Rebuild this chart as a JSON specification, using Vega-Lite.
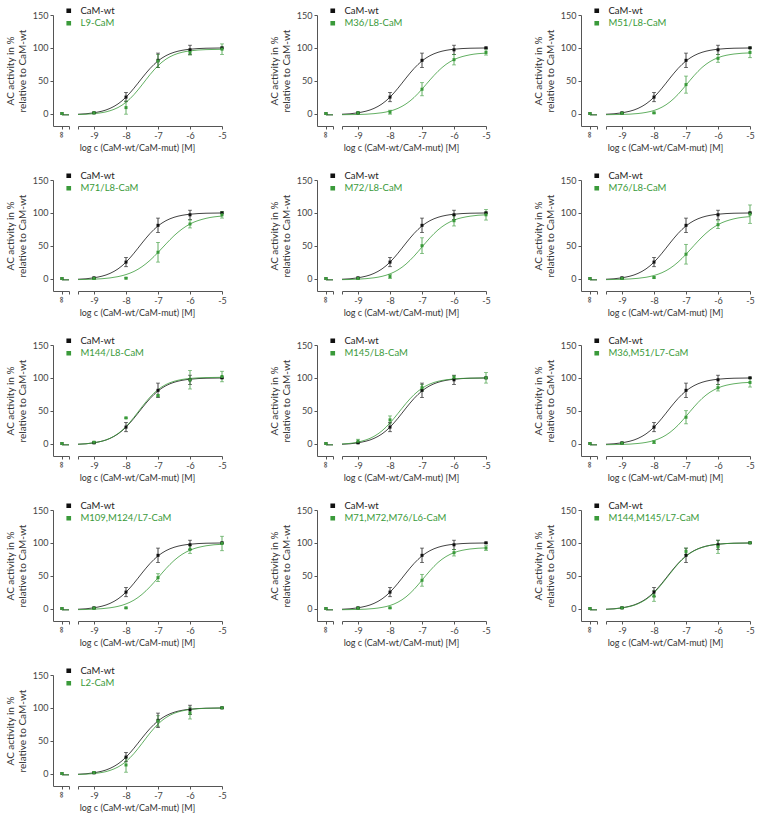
{
"$schema": "https://vega.github.io/schema/vega-lite/v6.json",
"background": "white",
"padding": {"left": 5, "top": 6, "right": 5, "bottom": 2},
"datasets": {"d": [
{"s":"CaM-wt","k":"i","x":-10,"y":0},{"s":"CaM-wt","k":"t","x":-10,"y":-2},{"s":"CaM-wt","k":"t","x":-9.78,"y":-2},
{"s":"CaM-wt","k":"p","x":-9,"y":1,"e":1},{"s":"CaM-wt","k":"p","x":-8,"y":25,"e":7},{"s":"CaM-wt","k":"p","x":-7,"y":81,"e":11},{"s":"CaM-wt","k":"p","x":-6,"y":97,"e":7},{"s":"CaM-wt","k":"p","x":-5,"y":100,"e":1},
{"s":"CaM-wt","k":"c","x":-9.5,"y":-1.1},{"s":"CaM-wt","k":"c","x":-9,"y":1.1},{"s":"CaM-wt","k":"c","x":-8.5,"y":7.8},{"s":"CaM-wt","k":"c","x":-8.25,"y":14.6},{"s":"CaM-wt","k":"c","x":-8,"y":24.9},{"s":"CaM-wt","k":"c","x":-7.75,"y":38.6},{"s":"CaM-wt","k":"c","x":-7.5,"y":54},{"s":"CaM-wt","k":"c","x":-7.25,"y":68.5},{"s":"CaM-wt","k":"c","x":-7,"y":80.1},{"s":"CaM-wt","k":"c","x":-6.75,"y":88.1},{"s":"CaM-wt","k":"c","x":-6.5,"y":93.2},{"s":"CaM-wt","k":"c","x":-6.25,"y":96.2},{"s":"CaM-wt","k":"c","x":-6,"y":97.9},{"s":"CaM-wt","k":"c","x":-5.5,"y":99.4},{"s":"CaM-wt","k":"c","x":-5,"y":99.8},

{"s":"L9-CaM","k":"i","x":-10,"y":0},{"s":"L9-CaM","k":"t","x":-10,"y":-2},{"s":"L9-CaM","k":"t","x":-9.78,"y":-2},
{"s":"L9-CaM","k":"p","x":-9,"y":1,"e":1},{"s":"L9-CaM","k":"p","x":-8,"y":9,"e":10},{"s":"L9-CaM","k":"p","x":-7,"y":80,"e":10},{"s":"L9-CaM","k":"p","x":-6,"y":93,"e":4},{"s":"L9-CaM","k":"p","x":-5,"y":98,"e":8},
{"s":"L9-CaM","k":"c","x":-9.5,"y":-1.5},{"s":"L9-CaM","k":"c","x":-9,"y":-0.2},{"s":"L9-CaM","k":"c","x":-8.5,"y":4.2},{"s":"L9-CaM","k":"c","x":-8.25,"y":9.1},{"s":"L9-CaM","k":"c","x":-8,"y":17.1},{"s":"L9-CaM","k":"c","x":-7.75,"y":28.8},{"s":"L9-CaM","k":"c","x":-7.5,"y":43.6},{"s":"L9-CaM","k":"c","x":-7.25,"y":59.2},{"s":"L9-CaM","k":"c","x":-7,"y":72.8},{"s":"L9-CaM","k":"c","x":-6.75,"y":82.8},{"s":"L9-CaM","k":"c","x":-6.5,"y":89.3},{"s":"L9-CaM","k":"c","x":-6.25,"y":93.2},{"s":"L9-CaM","k":"c","x":-6,"y":95.4},{"s":"L9-CaM","k":"c","x":-5.5,"y":97.3},{"s":"L9-CaM","k":"c","x":-5,"y":97.8},

{"s":"M36/L8-CaM","k":"i","x":-10,"y":0},{"s":"M36/L8-CaM","k":"t","x":-10,"y":-2},{"s":"M36/L8-CaM","k":"t","x":-9.78,"y":-2},
{"s":"M36/L8-CaM","k":"p","x":-9,"y":1,"e":1},{"s":"M36/L8-CaM","k":"p","x":-8,"y":2,"e":3},{"s":"M36/L8-CaM","k":"p","x":-7,"y":37,"e":10},{"s":"M36/L8-CaM","k":"p","x":-6,"y":82,"e":8},{"s":"M36/L8-CaM","k":"p","x":-5,"y":93,"e":4},
{"s":"M36/L8-CaM","k":"c","x":-9.5,"y":-1.8},{"s":"M36/L8-CaM","k":"c","x":-9,"y":-1.5},{"s":"M36/L8-CaM","k":"c","x":-8.5,"y":-0.2},{"s":"M36/L8-CaM","k":"c","x":-8.25,"y":1.2},{"s":"M36/L8-CaM","k":"c","x":-8,"y":3.7},{"s":"M36/L8-CaM","k":"c","x":-7.75,"y":7.9},{"s":"M36/L8-CaM","k":"c","x":-7.5,"y":14.6},{"s":"M36/L8-CaM","k":"c","x":-7.25,"y":24.3},{"s":"M36/L8-CaM","k":"c","x":-7,"y":37.1},{"s":"M36/L8-CaM","k":"c","x":-6.75,"y":51.2},{"s":"M36/L8-CaM","k":"c","x":-6.5,"y":64.3},{"s":"M36/L8-CaM","k":"c","x":-6.25,"y":74.8},{"s":"M36/L8-CaM","k":"c","x":-6,"y":82},{"s":"M36/L8-CaM","k":"c","x":-5.5,"y":89.4},{"s":"M36/L8-CaM","k":"c","x":-5,"y":91.9},

{"s":"M51/L8-CaM","k":"i","x":-10,"y":0},{"s":"M51/L8-CaM","k":"t","x":-10,"y":-2},{"s":"M51/L8-CaM","k":"t","x":-9.78,"y":-2},
{"s":"M51/L8-CaM","k":"p","x":-9,"y":0.5,"e":1},{"s":"M51/L8-CaM","k":"p","x":-8,"y":1,"e":1},{"s":"M51/L8-CaM","k":"p","x":-7,"y":44,"e":13},{"s":"M51/L8-CaM","k":"p","x":-6,"y":84,"e":6},{"s":"M51/L8-CaM","k":"p","x":-5,"y":93,"e":8},
{"s":"M51/L8-CaM","k":"c","x":-9.5,"y":-1.8},{"s":"M51/L8-CaM","k":"c","x":-9,"y":-1.4},{"s":"M51/L8-CaM","k":"c","x":-8.5,"y":0},{"s":"M51/L8-CaM","k":"c","x":-8.25,"y":1.7},{"s":"M51/L8-CaM","k":"c","x":-8,"y":4.6},{"s":"M51/L8-CaM","k":"c","x":-7.75,"y":9.7},{"s":"M51/L8-CaM","k":"c","x":-7.5,"y":17.7},{"s":"M51/L8-CaM","k":"c","x":-7.25,"y":29.1},{"s":"M51/L8-CaM","k":"c","x":-7,"y":43.2},{"s":"M51/L8-CaM","k":"c","x":-6.75,"y":57.6},{"s":"M51/L8-CaM","k":"c","x":-6.5,"y":70.1},{"s":"M51/L8-CaM","k":"c","x":-6.25,"y":79.1},{"s":"M51/L8-CaM","k":"c","x":-6,"y":85},{"s":"M51/L8-CaM","k":"c","x":-5.5,"y":90.6},{"s":"M51/L8-CaM","k":"c","x":-5,"y":92.3},

{"s":"M71/L8-CaM","k":"i","x":-10,"y":0},{"s":"M71/L8-CaM","k":"t","x":-10,"y":-2},{"s":"M71/L8-CaM","k":"t","x":-9.78,"y":-2},
{"s":"M71/L8-CaM","k":"p","x":-9,"y":0,"e":1},{"s":"M71/L8-CaM","k":"p","x":-8,"y":0.5,"e":1},{"s":"M71/L8-CaM","k":"p","x":-7,"y":40,"e":15},{"s":"M71/L8-CaM","k":"p","x":-6,"y":83,"e":6},{"s":"M71/L8-CaM","k":"p","x":-5,"y":97,"e":5},
{"s":"M71/L8-CaM","k":"c","x":-9.5,"y":-1.6},{"s":"M71/L8-CaM","k":"c","x":-9,"y":-1},{"s":"M71/L8-CaM","k":"c","x":-8.5,"y":0.9},{"s":"M71/L8-CaM","k":"c","x":-8.25,"y":2.9},{"s":"M71/L8-CaM","k":"c","x":-8,"y":6},{"s":"M71/L8-CaM","k":"c","x":-7.75,"y":10.8},{"s":"M71/L8-CaM","k":"c","x":-7.5,"y":18},{"s":"M71/L8-CaM","k":"c","x":-7.25,"y":27.7},{"s":"M71/L8-CaM","k":"c","x":-7,"y":39.7},{"s":"M71/L8-CaM","k":"c","x":-6.75,"y":52.7},{"s":"M71/L8-CaM","k":"c","x":-6.5,"y":65.1},{"s":"M71/L8-CaM","k":"c","x":-6.25,"y":75.3},{"s":"M71/L8-CaM","k":"c","x":-6,"y":83},{"s":"M71/L8-CaM","k":"c","x":-5.5,"y":91.6},{"s":"M71/L8-CaM","k":"c","x":-5,"y":95.1},

{"s":"M72/L8-CaM","k":"i","x":-10,"y":0},{"s":"M72/L8-CaM","k":"t","x":-10,"y":-2},{"s":"M72/L8-CaM","k":"t","x":-9.78,"y":-2},
{"s":"M72/L8-CaM","k":"p","x":-9,"y":0,"e":1},{"s":"M72/L8-CaM","k":"p","x":-8,"y":3,"e":3},{"s":"M72/L8-CaM","k":"p","x":-7,"y":50,"e":12},{"s":"M72/L8-CaM","k":"p","x":-6,"y":88,"e":8},{"s":"M72/L8-CaM","k":"p","x":-5,"y":97,"e":8},
{"s":"M72/L8-CaM","k":"c","x":-9.5,"y":-1.7},{"s":"M72/L8-CaM","k":"c","x":-9,"y":-1},{"s":"M72/L8-CaM","k":"c","x":-8.5,"y":1.1},{"s":"M72/L8-CaM","k":"c","x":-8.25,"y":3.3},{"s":"M72/L8-CaM","k":"c","x":-8,"y":7.1},{"s":"M72/L8-CaM","k":"c","x":-7.75,"y":13.1},{"s":"M72/L8-CaM","k":"c","x":-7.5,"y":22},{"s":"M72/L8-CaM","k":"c","x":-7.25,"y":34},{"s":"M72/L8-CaM","k":"c","x":-7,"y":48},{"s":"M72/L8-CaM","k":"c","x":-6.75,"y":62},{"s":"M72/L8-CaM","k":"c","x":-6.5,"y":74},{"s":"M72/L8-CaM","k":"c","x":-6.25,"y":82.9},{"s":"M72/L8-CaM","k":"c","x":-6,"y":88.9},{"s":"M72/L8-CaM","k":"c","x":-5.5,"y":94.9},{"s":"M72/L8-CaM","k":"c","x":-5,"y":97},

{"s":"M76/L8-CaM","k":"i","x":-10,"y":0},{"s":"M76/L8-CaM","k":"t","x":-10,"y":-2},{"s":"M76/L8-CaM","k":"t","x":-9.78,"y":-2},
{"s":"M76/L8-CaM","k":"p","x":-9,"y":0,"e":1},{"s":"M76/L8-CaM","k":"p","x":-8,"y":1.5,"e":1},{"s":"M76/L8-CaM","k":"p","x":-7,"y":37,"e":15},{"s":"M76/L8-CaM","k":"p","x":-6,"y":82,"e":6},{"s":"M76/L8-CaM","k":"p","x":-5,"y":98,"e":14},
{"s":"M76/L8-CaM","k":"c","x":-9.5,"y":-1.7},{"s":"M76/L8-CaM","k":"c","x":-9,"y":-1.2},{"s":"M76/L8-CaM","k":"c","x":-8.5,"y":0.3},{"s":"M76/L8-CaM","k":"c","x":-8.25,"y":1.9},{"s":"M76/L8-CaM","k":"c","x":-8,"y":4.6},{"s":"M76/L8-CaM","k":"c","x":-7.75,"y":8.9},{"s":"M76/L8-CaM","k":"c","x":-7.5,"y":15.5},{"s":"M76/L8-CaM","k":"c","x":-7.25,"y":24.9},{"s":"M76/L8-CaM","k":"c","x":-7,"y":36.9},{"s":"M76/L8-CaM","k":"c","x":-6.75,"y":50.3},{"s":"M76/L8-CaM","k":"c","x":-6.5,"y":63.2},{"s":"M76/L8-CaM","k":"c","x":-6.25,"y":74},{"s":"M76/L8-CaM","k":"c","x":-6,"y":82},{"s":"M76/L8-CaM","k":"c","x":-5.5,"y":90.9},{"s":"M76/L8-CaM","k":"c","x":-5,"y":94.2},

{"s":"M144/L8-CaM","k":"i","x":-10,"y":0},{"s":"M144/L8-CaM","k":"t","x":-10,"y":-2},{"s":"M144/L8-CaM","k":"t","x":-9.78,"y":-2},
{"s":"M144/L8-CaM","k":"p","x":-9,"y":2,"e":1},{"s":"M144/L8-CaM","k":"p","x":-8,"y":39,"e":1},{"s":"M144/L8-CaM","k":"p","x":-7,"y":73,"e":1},{"s":"M144/L8-CaM","k":"p","x":-6,"y":97,"e":14},{"s":"M144/L8-CaM","k":"p","x":-5,"y":102,"e":8},
{"s":"M144/L8-CaM","k":"c","x":-9.5,"y":-1.1},{"s":"M144/L8-CaM","k":"c","x":-9,"y":1.1},{"s":"M144/L8-CaM","k":"c","x":-8.5,"y":7.9},{"s":"M144/L8-CaM","k":"c","x":-8.25,"y":15.1},{"s":"M144/L8-CaM","k":"c","x":-8,"y":25.8},{"s":"M144/L8-CaM","k":"c","x":-7.75,"y":40},{"s":"M144/L8-CaM","k":"c","x":-7.5,"y":55.9},{"s":"M144/L8-CaM","k":"c","x":-7.25,"y":70.6},{"s":"M144/L8-CaM","k":"c","x":-7,"y":82.1},{"s":"M144/L8-CaM","k":"c","x":-6.75,"y":89.9},{"s":"M144/L8-CaM","k":"c","x":-6.5,"y":94.7},{"s":"M144/L8-CaM","k":"c","x":-6.25,"y":97.5},{"s":"M144/L8-CaM","k":"c","x":-6,"y":99.1},{"s":"M144/L8-CaM","k":"c","x":-5.5,"y":100.4},{"s":"M144/L8-CaM","k":"c","x":-5,"y":100.8},

{"s":"M145/L8-CaM","k":"i","x":-10,"y":0},{"s":"M145/L8-CaM","k":"t","x":-10,"y":-2},{"s":"M145/L8-CaM","k":"t","x":-9.78,"y":-2},
{"s":"M145/L8-CaM","k":"p","x":-9,"y":3.5,"e":3},{"s":"M145/L8-CaM","k":"p","x":-8,"y":36,"e":6},{"s":"M145/L8-CaM","k":"p","x":-7,"y":85,"e":5},{"s":"M145/L8-CaM","k":"p","x":-6,"y":101,"e":2},{"s":"M145/L8-CaM","k":"p","x":-5,"y":100,"e":8},
{"s":"M145/L8-CaM","k":"c","x":-9.5,"y":-0.7},{"s":"M145/L8-CaM","k":"c","x":-9,"y":2.2},{"s":"M145/L8-CaM","k":"c","x":-8.5,"y":10.9},{"s":"M145/L8-CaM","k":"c","x":-8.25,"y":19.3},{"s":"M145/L8-CaM","k":"c","x":-8,"y":31.3},{"s":"M145/L8-CaM","k":"c","x":-7.75,"y":45.9},{"s":"M145/L8-CaM","k":"c","x":-7.5,"y":61.1},{"s":"M145/L8-CaM","k":"c","x":-7.25,"y":74.3},{"s":"M145/L8-CaM","k":"c","x":-7,"y":84.1},{"s":"M145/L8-CaM","k":"c","x":-6.75,"y":90.7},{"s":"M145/L8-CaM","k":"c","x":-6.5,"y":94.7},{"s":"M145/L8-CaM","k":"c","x":-6.25,"y":97},{"s":"M145/L8-CaM","k":"c","x":-6,"y":98.4},{"s":"M145/L8-CaM","k":"c","x":-5.5,"y":99.5},{"s":"M145/L8-CaM","k":"c","x":-5,"y":99.9},

{"s":"M36,M51/L7-CaM","k":"i","x":-10,"y":0},{"s":"M36,M51/L7-CaM","k":"t","x":-10,"y":-2},{"s":"M36,M51/L7-CaM","k":"t","x":-9.78,"y":-2},
{"s":"M36,M51/L7-CaM","k":"p","x":-9,"y":0.5,"e":1},{"s":"M36,M51/L7-CaM","k":"p","x":-8,"y":2,"e":2},{"s":"M36,M51/L7-CaM","k":"p","x":-7,"y":40,"e":10},{"s":"M36,M51/L7-CaM","k":"p","x":-6,"y":85,"e":5},{"s":"M36,M51/L7-CaM","k":"p","x":-5,"y":93,"e":7},
{"s":"M36,M51/L7-CaM","k":"c","x":-9.5,"y":-1.8},{"s":"M36,M51/L7-CaM","k":"c","x":-9,"y":-1.4},{"s":"M36,M51/L7-CaM","k":"c","x":-8.5,"y":0.1},{"s":"M36,M51/L7-CaM","k":"c","x":-8.25,"y":1.7},{"s":"M36,M51/L7-CaM","k":"c","x":-8,"y":4.6},{"s":"M36,M51/L7-CaM","k":"c","x":-7.75,"y":9.4},{"s":"M36,M51/L7-CaM","k":"c","x":-7.5,"y":17},{"s":"M36,M51/L7-CaM","k":"c","x":-7.25,"y":27.8},{"s":"M36,M51/L7-CaM","k":"c","x":-7,"y":41.4},{"s":"M36,M51/L7-CaM","k":"c","x":-6.75,"y":55.7},{"s":"M36,M51/L7-CaM","k":"c","x":-6.5,"y":68.5},{"s":"M36,M51/L7-CaM","k":"c","x":-6.25,"y":78.1},{"s":"M36,M51/L7-CaM","k":"c","x":-6,"y":84.6},{"s":"M36,M51/L7-CaM","k":"c","x":-5.5,"y":91},{"s":"M36,M51/L7-CaM","k":"c","x":-5,"y":93.1},

{"s":"M109,M124/L7-CaM","k":"i","x":-10,"y":0},{"s":"M109,M124/L7-CaM","k":"t","x":-10,"y":-2},{"s":"M109,M124/L7-CaM","k":"t","x":-9.78,"y":-2},
{"s":"M109,M124/L7-CaM","k":"p","x":-9,"y":0.5,"e":1},{"s":"M109,M124/L7-CaM","k":"p","x":-8,"y":1,"e":1},{"s":"M109,M124/L7-CaM","k":"p","x":-7,"y":47,"e":6},{"s":"M109,M124/L7-CaM","k":"p","x":-6,"y":90,"e":6},{"s":"M109,M124/L7-CaM","k":"p","x":-5,"y":99,"e":11},
{"s":"M109,M124/L7-CaM","k":"c","x":-9.5,"y":-1.7},{"s":"M109,M124/L7-CaM","k":"c","x":-9,"y":-1},{"s":"M109,M124/L7-CaM","k":"c","x":-8.5,"y":1.1},{"s":"M109,M124/L7-CaM","k":"c","x":-8.25,"y":3.3},{"s":"M109,M124/L7-CaM","k":"c","x":-8,"y":7},{"s":"M109,M124/L7-CaM","k":"c","x":-7.75,"y":12.8},{"s":"M109,M124/L7-CaM","k":"c","x":-7.5,"y":21.5},{"s":"M109,M124/L7-CaM","k":"c","x":-7.25,"y":33.1},{"s":"M109,M124/L7-CaM","k":"c","x":-7,"y":46.8},{"s":"M109,M124/L7-CaM","k":"c","x":-6.75,"y":60.8},{"s":"M109,M124/L7-CaM","k":"c","x":-6.5,"y":73},{"s":"M109,M124/L7-CaM","k":"c","x":-6.25,"y":82.4},{"s":"M109,M124/L7-CaM","k":"c","x":-6,"y":88.8},{"s":"M109,M124/L7-CaM","k":"c","x":-5.5,"y":95.5},{"s":"M109,M124/L7-CaM","k":"c","x":-5,"y":97.8},

{"s":"M71,M72,M76/L6-CaM","k":"i","x":-10,"y":0},{"s":"M71,M72,M76/L6-CaM","k":"t","x":-10,"y":-2},{"s":"M71,M72,M76/L6-CaM","k":"t","x":-9.78,"y":-2},
{"s":"M71,M72,M76/L6-CaM","k":"p","x":-9,"y":0.5,"e":1},{"s":"M71,M72,M76/L6-CaM","k":"p","x":-8,"y":1,"e":1},{"s":"M71,M72,M76/L6-CaM","k":"p","x":-7,"y":43,"e":9},{"s":"M71,M72,M76/L6-CaM","k":"p","x":-6,"y":85,"e":5},{"s":"M71,M72,M76/L6-CaM","k":"p","x":-5,"y":92,"e":3.5},
{"s":"M71,M72,M76/L6-CaM","k":"c","x":-9.5,"y":-1.8},{"s":"M71,M72,M76/L6-CaM","k":"c","x":-9,"y":-1.4},{"s":"M71,M72,M76/L6-CaM","k":"c","x":-8.5,"y":0},{"s":"M71,M72,M76/L6-CaM","k":"c","x":-8.25,"y":1.7},{"s":"M71,M72,M76/L6-CaM","k":"c","x":-8,"y":4.6},{"s":"M71,M72,M76/L6-CaM","k":"c","x":-7.75,"y":9.7},{"s":"M71,M72,M76/L6-CaM","k":"c","x":-7.5,"y":17.7},{"s":"M71,M72,M76/L6-CaM","k":"c","x":-7.25,"y":29.1},{"s":"M71,M72,M76/L6-CaM","k":"c","x":-7,"y":43.2},{"s":"M71,M72,M76/L6-CaM","k":"c","x":-6.75,"y":57.6},{"s":"M71,M72,M76/L6-CaM","k":"c","x":-6.5,"y":70.1},{"s":"M71,M72,M76/L6-CaM","k":"c","x":-6.25,"y":79.1},{"s":"M71,M72,M76/L6-CaM","k":"c","x":-6,"y":85},{"s":"M71,M72,M76/L6-CaM","k":"c","x":-5.5,"y":90.6},{"s":"M71,M72,M76/L6-CaM","k":"c","x":-5,"y":92.3},

{"s":"M144,M145/L7-CaM","k":"i","x":-10,"y":0},{"s":"M144,M145/L7-CaM","k":"t","x":-10,"y":-2},{"s":"M144,M145/L7-CaM","k":"t","x":-9.78,"y":-2},
{"s":"M144,M145/L7-CaM","k":"p","x":-9,"y":1,"e":1},{"s":"M144,M145/L7-CaM","k":"p","x":-8,"y":19,"e":8},{"s":"M144,M145/L7-CaM","k":"p","x":-7,"y":87,"e":5},{"s":"M144,M145/L7-CaM","k":"p","x":-6,"y":94,"e":10},{"s":"M144,M145/L7-CaM","k":"p","x":-5,"y":100,"e":1},
{"s":"M144,M145/L7-CaM","k":"c","x":-9.5,"y":-1.2},{"s":"M144,M145/L7-CaM","k":"c","x":-9,"y":0.8},{"s":"M144,M145/L7-CaM","k":"c","x":-8.5,"y":7.2},{"s":"M144,M145/L7-CaM","k":"c","x":-8.25,"y":13.8},{"s":"M144,M145/L7-CaM","k":"c","x":-8,"y":23.8},{"s":"M144,M145/L7-CaM","k":"c","x":-7.75,"y":37.6},{"s":"M144,M145/L7-CaM","k":"c","x":-7.5,"y":53},{"s":"M144,M145/L7-CaM","k":"c","x":-7.25,"y":67.8},{"s":"M144,M145/L7-CaM","k":"c","x":-7,"y":79.6},{"s":"M144,M145/L7-CaM","k":"c","x":-6.75,"y":87.8},{"s":"M144,M145/L7-CaM","k":"c","x":-6.5,"y":93},{"s":"M144,M145/L7-CaM","k":"c","x":-6.25,"y":96.1},{"s":"M144,M145/L7-CaM","k":"c","x":-6,"y":97.9},{"s":"M144,M145/L7-CaM","k":"c","x":-5.5,"y":99.4},{"s":"M144,M145/L7-CaM","k":"c","x":-5,"y":99.8},

{"s":"L2-CaM","k":"i","x":-10,"y":0},{"s":"L2-CaM","k":"t","x":-10,"y":-2},{"s":"L2-CaM","k":"t","x":-9.78,"y":-2},
{"s":"L2-CaM","k":"p","x":-9,"y":1.5,"e":1},{"s":"L2-CaM","k":"p","x":-8,"y":13,"e":11},{"s":"L2-CaM","k":"p","x":-7,"y":80,"e":8},{"s":"L2-CaM","k":"p","x":-6,"y":92,"e":9},{"s":"L2-CaM","k":"p","x":-5,"y":100,"e":1},
{"s":"L2-CaM","k":"c","x":-9.5,"y":-1.4},{"s":"L2-CaM","k":"c","x":-9,"y":0},{"s":"L2-CaM","k":"c","x":-8.5,"y":4.7},{"s":"L2-CaM","k":"c","x":-8.25,"y":9.9},{"s":"L2-CaM","k":"c","x":-8,"y":18.3},{"s":"L2-CaM","k":"c","x":-7.75,"y":30.5},{"s":"L2-CaM","k":"c","x":-7.5,"y":45.8},{"s":"L2-CaM","k":"c","x":-7.25,"y":61.6},{"s":"L2-CaM","k":"c","x":-7,"y":75.3},{"s":"L2-CaM","k":"c","x":-6.75,"y":85.2},{"s":"L2-CaM","k":"c","x":-6.5,"y":91.6},{"s":"L2-CaM","k":"c","x":-6.25,"y":95.3},{"s":"L2-CaM","k":"c","x":-6,"y":97.5},{"s":"L2-CaM","k":"c","x":-5.5,"y":99.3},{"s":"L2-CaM","k":"c","x":-5,"y":99.8}
]},
"data": {"name": "d"},
"columns": 3,
"spacing": {"row": 54, "column": 95},
"bounds": "flush",
"resolve": {"scale": {"color": "independent"}, "legend": {"color": "independent"}},
"config": {
  "view": {"stroke": null},
  "font": "Lato",
  "axis": {"domainColor": "#555555", "tickColor": "#555555", "labelColor": "#444444", "labelFontSize": 9, "titleFontSize": 10, "titleFontWeight": "normal", "titleColor": "#333333", "tickSize": 3, "grid": false, "labelFlush": false, "labelOverlap": false, "labelBound": false, "domainWidth": 1, "tickWidth": 1},
  "axisY": {"titlePadding": 5, "labelPadding": 2, "titleLineHeight": 12},
  "axisX": {"labelPadding": 2, "titlePadding": 3, "titleFontSize": 9},
  "legend": {"labelFontSize": 9.5, "labelLimit": 300},
  "point": {"filled": true, "shape": "square", "size": 9, "opacity": 1},
  "line": {"strokeWidth": 0.8}
},
"concat": [
{"width":169,"height":111,"transform":[{"filter":"datum.s=='CaM-wt'||datum.s=='L9-CaM'"}],
 "encoding":{"y":{"field":"y","type":"quantitative","scale":{"domain":[-19,150],"nice":false,"zero":false},"axis":{"values":[0,50,100,150],"title":["AC activity in %","relative to CaM-wt"]}},
  "color":{"field":"s","type":"nominal","scale":{"domain":["CaM-wt","L9-CaM"],"range":["#111111","#3a9a3a"]},"legend":{"title":null,"orient":"none","legendX":11,"legendY":-9,"symbolType":"square","symbolSize":10,"labelOffset":7,"rowPadding":1.5,"encode":{"labels":{"update":{"fill":{"signal":"datum.value=='CaM-wt'?'#222222':'#3a9a3a'"}}},"symbols":{"update":{"fill":{"signal":"datum.value=='CaM-wt'?'#111111':'#3a9a3a'"},"stroke":{"value":"transparent"}}}}}}},
 "layer":[
  {"encoding":{"x":{"field":"x","type":"quantitative","scale":{"domain":[-10.28,-9.78],"range":[0,16],"nice":false,"zero":false},"axis":{"orient":"bottom","values":[-10,-9.78],"labelExpr":"datum.value==-10?'∞':''","labelAngle":90,"title":null}}},
   "layer":[{"transform":[{"filter":"datum.k=='t'"}],"mark":{"type":"line"}},{"transform":[{"filter":"datum.k=='i'"}],"mark":{"type":"point"}}]},
  {"encoding":{"x":{"field":"x","type":"quantitative","scale":{"domain":[-9.5,-5],"range":[25,169],"nice":false,"zero":false},"axis":{"orient":"bottom","values":[-9.5,-9,-8,-7,-6,-5],"labelExpr":"datum.value==-9.5?'':''+datum.value","title":"log c (CaM-wt/CaM-mut) [M]","titleX":84}}},
   "layer":[{"transform":[{"filter":"datum.k=='c'"}],"mark":{"type":"line","interpolate":"monotone"}},{"transform":[{"filter":"datum.k=='p'"}],"mark":{"type":"errorbar","ticks":{"size":4},"thickness":0.8},"encoding":{"yError":{"field":"e"}}},{"transform":[{"filter":"datum.k=='p'"}],"mark":{"type":"point"}}]}
 ],
 "resolve":{"scale":{"x":"independent"},"axis":{"x":"independent"}}},
{"width":169,"height":111,"transform":[{"filter":"datum.s=='CaM-wt'||datum.s=='M36/L8-CaM'"}],
 "encoding":{"y":{"field":"y","type":"quantitative","scale":{"domain":[-19,150],"nice":false,"zero":false},"axis":{"values":[0,50,100,150],"title":["AC activity in %","relative to CaM-wt"]}},
  "color":{"field":"s","type":"nominal","scale":{"domain":["CaM-wt","M36/L8-CaM"],"range":["#111111","#3a9a3a"]},"legend":{"title":null,"orient":"none","legendX":11,"legendY":-9,"symbolType":"square","symbolSize":10,"labelOffset":7,"rowPadding":1.5,"encode":{"labels":{"update":{"fill":{"signal":"datum.value=='CaM-wt'?'#222222':'#3a9a3a'"}}},"symbols":{"update":{"fill":{"signal":"datum.value=='CaM-wt'?'#111111':'#3a9a3a'"},"stroke":{"value":"transparent"}}}}}}},
 "layer":[
  {"encoding":{"x":{"field":"x","type":"quantitative","scale":{"domain":[-10.28,-9.78],"range":[0,16],"nice":false,"zero":false},"axis":{"orient":"bottom","values":[-10,-9.78],"labelExpr":"datum.value==-10?'∞':''","labelAngle":90,"title":null}}},
   "layer":[{"transform":[{"filter":"datum.k=='t'"}],"mark":{"type":"line"}},{"transform":[{"filter":"datum.k=='i'"}],"mark":{"type":"point"}}]},
  {"encoding":{"x":{"field":"x","type":"quantitative","scale":{"domain":[-9.5,-5],"range":[25,169],"nice":false,"zero":false},"axis":{"orient":"bottom","values":[-9.5,-9,-8,-7,-6,-5],"labelExpr":"datum.value==-9.5?'':''+datum.value","title":"log c (CaM-wt/CaM-mut) [M]","titleX":84}}},
   "layer":[{"transform":[{"filter":"datum.k=='c'"}],"mark":{"type":"line","interpolate":"monotone"}},{"transform":[{"filter":"datum.k=='p'"}],"mark":{"type":"errorbar","ticks":{"size":4},"thickness":0.8},"encoding":{"yError":{"field":"e"}}},{"transform":[{"filter":"datum.k=='p'"}],"mark":{"type":"point"}}]}
 ],
 "resolve":{"scale":{"x":"independent"},"axis":{"x":"independent"}}},
{"width":169,"height":111,"transform":[{"filter":"datum.s=='CaM-wt'||datum.s=='M51/L8-CaM'"}],
 "encoding":{"y":{"field":"y","type":"quantitative","scale":{"domain":[-19,150],"nice":false,"zero":false},"axis":{"values":[0,50,100,150],"title":["AC activity in %","relative to CaM-wt"]}},
  "color":{"field":"s","type":"nominal","scale":{"domain":["CaM-wt","M51/L8-CaM"],"range":["#111111","#3a9a3a"]},"legend":{"title":null,"orient":"none","legendX":11,"legendY":-9,"symbolType":"square","symbolSize":10,"labelOffset":7,"rowPadding":1.5,"encode":{"labels":{"update":{"fill":{"signal":"datum.value=='CaM-wt'?'#222222':'#3a9a3a'"}}},"symbols":{"update":{"fill":{"signal":"datum.value=='CaM-wt'?'#111111':'#3a9a3a'"},"stroke":{"value":"transparent"}}}}}}},
 "layer":[
  {"encoding":{"x":{"field":"x","type":"quantitative","scale":{"domain":[-10.28,-9.78],"range":[0,16],"nice":false,"zero":false},"axis":{"orient":"bottom","values":[-10,-9.78],"labelExpr":"datum.value==-10?'∞':''","labelAngle":90,"title":null}}},
   "layer":[{"transform":[{"filter":"datum.k=='t'"}],"mark":{"type":"line"}},{"transform":[{"filter":"datum.k=='i'"}],"mark":{"type":"point"}}]},
  {"encoding":{"x":{"field":"x","type":"quantitative","scale":{"domain":[-9.5,-5],"range":[25,169],"nice":false,"zero":false},"axis":{"orient":"bottom","values":[-9.5,-9,-8,-7,-6,-5],"labelExpr":"datum.value==-9.5?'':''+datum.value","title":"log c (CaM-wt/CaM-mut) [M]","titleX":84}}},
   "layer":[{"transform":[{"filter":"datum.k=='c'"}],"mark":{"type":"line","interpolate":"monotone"}},{"transform":[{"filter":"datum.k=='p'"}],"mark":{"type":"errorbar","ticks":{"size":4},"thickness":0.8},"encoding":{"yError":{"field":"e"}}},{"transform":[{"filter":"datum.k=='p'"}],"mark":{"type":"point"}}]}
 ],
 "resolve":{"scale":{"x":"independent"},"axis":{"x":"independent"}}},
{"width":169,"height":111,"transform":[{"filter":"datum.s=='CaM-wt'||datum.s=='M71/L8-CaM'"}],
 "encoding":{"y":{"field":"y","type":"quantitative","scale":{"domain":[-19,150],"nice":false,"zero":false},"axis":{"values":[0,50,100,150],"title":["AC activity in %","relative to CaM-wt"]}},
  "color":{"field":"s","type":"nominal","scale":{"domain":["CaM-wt","M71/L8-CaM"],"range":["#111111","#3a9a3a"]},"legend":{"title":null,"orient":"none","legendX":11,"legendY":-9,"symbolType":"square","symbolSize":10,"labelOffset":7,"rowPadding":1.5,"encode":{"labels":{"update":{"fill":{"signal":"datum.value=='CaM-wt'?'#222222':'#3a9a3a'"}}},"symbols":{"update":{"fill":{"signal":"datum.value=='CaM-wt'?'#111111':'#3a9a3a'"},"stroke":{"value":"transparent"}}}}}}},
 "layer":[
  {"encoding":{"x":{"field":"x","type":"quantitative","scale":{"domain":[-10.28,-9.78],"range":[0,16],"nice":false,"zero":false},"axis":{"orient":"bottom","values":[-10,-9.78],"labelExpr":"datum.value==-10?'∞':''","labelAngle":90,"title":null}}},
   "layer":[{"transform":[{"filter":"datum.k=='t'"}],"mark":{"type":"line"}},{"transform":[{"filter":"datum.k=='i'"}],"mark":{"type":"point"}}]},
  {"encoding":{"x":{"field":"x","type":"quantitative","scale":{"domain":[-9.5,-5],"range":[25,169],"nice":false,"zero":false},"axis":{"orient":"bottom","values":[-9.5,-9,-8,-7,-6,-5],"labelExpr":"datum.value==-9.5?'':''+datum.value","title":"log c (CaM-wt/CaM-mut) [M]","titleX":84}}},
   "layer":[{"transform":[{"filter":"datum.k=='c'"}],"mark":{"type":"line","interpolate":"monotone"}},{"transform":[{"filter":"datum.k=='p'"}],"mark":{"type":"errorbar","ticks":{"size":4},"thickness":0.8},"encoding":{"yError":{"field":"e"}}},{"transform":[{"filter":"datum.k=='p'"}],"mark":{"type":"point"}}]}
 ],
 "resolve":{"scale":{"x":"independent"},"axis":{"x":"independent"}}},
{"width":169,"height":111,"transform":[{"filter":"datum.s=='CaM-wt'||datum.s=='M72/L8-CaM'"}],
 "encoding":{"y":{"field":"y","type":"quantitative","scale":{"domain":[-19,150],"nice":false,"zero":false},"axis":{"values":[0,50,100,150],"title":["AC activity in %","relative to CaM-wt"]}},
  "color":{"field":"s","type":"nominal","scale":{"domain":["CaM-wt","M72/L8-CaM"],"range":["#111111","#3a9a3a"]},"legend":{"title":null,"orient":"none","legendX":11,"legendY":-9,"symbolType":"square","symbolSize":10,"labelOffset":7,"rowPadding":1.5,"encode":{"labels":{"update":{"fill":{"signal":"datum.value=='CaM-wt'?'#222222':'#3a9a3a'"}}},"symbols":{"update":{"fill":{"signal":"datum.value=='CaM-wt'?'#111111':'#3a9a3a'"},"stroke":{"value":"transparent"}}}}}}},
 "layer":[
  {"encoding":{"x":{"field":"x","type":"quantitative","scale":{"domain":[-10.28,-9.78],"range":[0,16],"nice":false,"zero":false},"axis":{"orient":"bottom","values":[-10,-9.78],"labelExpr":"datum.value==-10?'∞':''","labelAngle":90,"title":null}}},
   "layer":[{"transform":[{"filter":"datum.k=='t'"}],"mark":{"type":"line"}},{"transform":[{"filter":"datum.k=='i'"}],"mark":{"type":"point"}}]},
  {"encoding":{"x":{"field":"x","type":"quantitative","scale":{"domain":[-9.5,-5],"range":[25,169],"nice":false,"zero":false},"axis":{"orient":"bottom","values":[-9.5,-9,-8,-7,-6,-5],"labelExpr":"datum.value==-9.5?'':''+datum.value","title":"log c (CaM-wt/CaM-mut) [M]","titleX":84}}},
   "layer":[{"transform":[{"filter":"datum.k=='c'"}],"mark":{"type":"line","interpolate":"monotone"}},{"transform":[{"filter":"datum.k=='p'"}],"mark":{"type":"errorbar","ticks":{"size":4},"thickness":0.8},"encoding":{"yError":{"field":"e"}}},{"transform":[{"filter":"datum.k=='p'"}],"mark":{"type":"point"}}]}
 ],
 "resolve":{"scale":{"x":"independent"},"axis":{"x":"independent"}}},
{"width":169,"height":111,"transform":[{"filter":"datum.s=='CaM-wt'||datum.s=='M76/L8-CaM'"}],
 "encoding":{"y":{"field":"y","type":"quantitative","scale":{"domain":[-19,150],"nice":false,"zero":false},"axis":{"values":[0,50,100,150],"title":["AC activity in %","relative to CaM-wt"]}},
  "color":{"field":"s","type":"nominal","scale":{"domain":["CaM-wt","M76/L8-CaM"],"range":["#111111","#3a9a3a"]},"legend":{"title":null,"orient":"none","legendX":11,"legendY":-9,"symbolType":"square","symbolSize":10,"labelOffset":7,"rowPadding":1.5,"encode":{"labels":{"update":{"fill":{"signal":"datum.value=='CaM-wt'?'#222222':'#3a9a3a'"}}},"symbols":{"update":{"fill":{"signal":"datum.value=='CaM-wt'?'#111111':'#3a9a3a'"},"stroke":{"value":"transparent"}}}}}}},
 "layer":[
  {"encoding":{"x":{"field":"x","type":"quantitative","scale":{"domain":[-10.28,-9.78],"range":[0,16],"nice":false,"zero":false},"axis":{"orient":"bottom","values":[-10,-9.78],"labelExpr":"datum.value==-10?'∞':''","labelAngle":90,"title":null}}},
   "layer":[{"transform":[{"filter":"datum.k=='t'"}],"mark":{"type":"line"}},{"transform":[{"filter":"datum.k=='i'"}],"mark":{"type":"point"}}]},
  {"encoding":{"x":{"field":"x","type":"quantitative","scale":{"domain":[-9.5,-5],"range":[25,169],"nice":false,"zero":false},"axis":{"orient":"bottom","values":[-9.5,-9,-8,-7,-6,-5],"labelExpr":"datum.value==-9.5?'':''+datum.value","title":"log c (CaM-wt/CaM-mut) [M]","titleX":84}}},
   "layer":[{"transform":[{"filter":"datum.k=='c'"}],"mark":{"type":"line","interpolate":"monotone"}},{"transform":[{"filter":"datum.k=='p'"}],"mark":{"type":"errorbar","ticks":{"size":4},"thickness":0.8},"encoding":{"yError":{"field":"e"}}},{"transform":[{"filter":"datum.k=='p'"}],"mark":{"type":"point"}}]}
 ],
 "resolve":{"scale":{"x":"independent"},"axis":{"x":"independent"}}},
{"width":169,"height":111,"transform":[{"filter":"datum.s=='CaM-wt'||datum.s=='M144/L8-CaM'"}],
 "encoding":{"y":{"field":"y","type":"quantitative","scale":{"domain":[-19,150],"nice":false,"zero":false},"axis":{"values":[0,50,100,150],"title":["AC activity in %","relative to CaM-wt"]}},
  "color":{"field":"s","type":"nominal","scale":{"domain":["CaM-wt","M144/L8-CaM"],"range":["#111111","#3a9a3a"]},"legend":{"title":null,"orient":"none","legendX":11,"legendY":-9,"symbolType":"square","symbolSize":10,"labelOffset":7,"rowPadding":1.5,"encode":{"labels":{"update":{"fill":{"signal":"datum.value=='CaM-wt'?'#222222':'#3a9a3a'"}}},"symbols":{"update":{"fill":{"signal":"datum.value=='CaM-wt'?'#111111':'#3a9a3a'"},"stroke":{"value":"transparent"}}}}}}},
 "layer":[
  {"encoding":{"x":{"field":"x","type":"quantitative","scale":{"domain":[-10.28,-9.78],"range":[0,16],"nice":false,"zero":false},"axis":{"orient":"bottom","values":[-10,-9.78],"labelExpr":"datum.value==-10?'∞':''","labelAngle":90,"title":null}}},
   "layer":[{"transform":[{"filter":"datum.k=='t'"}],"mark":{"type":"line"}},{"transform":[{"filter":"datum.k=='i'"}],"mark":{"type":"point"}}]},
  {"encoding":{"x":{"field":"x","type":"quantitative","scale":{"domain":[-9.5,-5],"range":[25,169],"nice":false,"zero":false},"axis":{"orient":"bottom","values":[-9.5,-9,-8,-7,-6,-5],"labelExpr":"datum.value==-9.5?'':''+datum.value","title":"log c (CaM-wt/CaM-mut) [M]","titleX":84}}},
   "layer":[{"transform":[{"filter":"datum.k=='c'"}],"mark":{"type":"line","interpolate":"monotone"}},{"transform":[{"filter":"datum.k=='p'"}],"mark":{"type":"errorbar","ticks":{"size":4},"thickness":0.8},"encoding":{"yError":{"field":"e"}}},{"transform":[{"filter":"datum.k=='p'"}],"mark":{"type":"point"}}]}
 ],
 "resolve":{"scale":{"x":"independent"},"axis":{"x":"independent"}}},
{"width":169,"height":111,"transform":[{"filter":"datum.s=='CaM-wt'||datum.s=='M145/L8-CaM'"}],
 "encoding":{"y":{"field":"y","type":"quantitative","scale":{"domain":[-19,150],"nice":false,"zero":false},"axis":{"values":[0,50,100,150],"title":["AC activity in %","relative to CaM-wt"]}},
  "color":{"field":"s","type":"nominal","scale":{"domain":["CaM-wt","M145/L8-CaM"],"range":["#111111","#3a9a3a"]},"legend":{"title":null,"orient":"none","legendX":11,"legendY":-9,"symbolType":"square","symbolSize":10,"labelOffset":7,"rowPadding":1.5,"encode":{"labels":{"update":{"fill":{"signal":"datum.value=='CaM-wt'?'#222222':'#3a9a3a'"}}},"symbols":{"update":{"fill":{"signal":"datum.value=='CaM-wt'?'#111111':'#3a9a3a'"},"stroke":{"value":"transparent"}}}}}}},
 "layer":[
  {"encoding":{"x":{"field":"x","type":"quantitative","scale":{"domain":[-10.28,-9.78],"range":[0,16],"nice":false,"zero":false},"axis":{"orient":"bottom","values":[-10,-9.78],"labelExpr":"datum.value==-10?'∞':''","labelAngle":90,"title":null}}},
   "layer":[{"transform":[{"filter":"datum.k=='t'"}],"mark":{"type":"line"}},{"transform":[{"filter":"datum.k=='i'"}],"mark":{"type":"point"}}]},
  {"encoding":{"x":{"field":"x","type":"quantitative","scale":{"domain":[-9.5,-5],"range":[25,169],"nice":false,"zero":false},"axis":{"orient":"bottom","values":[-9.5,-9,-8,-7,-6,-5],"labelExpr":"datum.value==-9.5?'':''+datum.value","title":"log c (CaM-wt/CaM-mut) [M]","titleX":84}}},
   "layer":[{"transform":[{"filter":"datum.k=='c'"}],"mark":{"type":"line","interpolate":"monotone"}},{"transform":[{"filter":"datum.k=='p'"}],"mark":{"type":"errorbar","ticks":{"size":4},"thickness":0.8},"encoding":{"yError":{"field":"e"}}},{"transform":[{"filter":"datum.k=='p'"}],"mark":{"type":"point"}}]}
 ],
 "resolve":{"scale":{"x":"independent"},"axis":{"x":"independent"}}},
{"width":169,"height":111,"transform":[{"filter":"datum.s=='CaM-wt'||datum.s=='M36,M51/L7-CaM'"}],
 "encoding":{"y":{"field":"y","type":"quantitative","scale":{"domain":[-19,150],"nice":false,"zero":false},"axis":{"values":[0,50,100,150],"title":["AC activity in %","relative to CaM-wt"]}},
  "color":{"field":"s","type":"nominal","scale":{"domain":["CaM-wt","M36,M51/L7-CaM"],"range":["#111111","#3a9a3a"]},"legend":{"title":null,"orient":"none","legendX":11,"legendY":-9,"symbolType":"square","symbolSize":10,"labelOffset":7,"rowPadding":1.5,"encode":{"labels":{"update":{"fill":{"signal":"datum.value=='CaM-wt'?'#222222':'#3a9a3a'"}}},"symbols":{"update":{"fill":{"signal":"datum.value=='CaM-wt'?'#111111':'#3a9a3a'"},"stroke":{"value":"transparent"}}}}}}},
 "layer":[
  {"encoding":{"x":{"field":"x","type":"quantitative","scale":{"domain":[-10.28,-9.78],"range":[0,16],"nice":false,"zero":false},"axis":{"orient":"bottom","values":[-10,-9.78],"labelExpr":"datum.value==-10?'∞':''","labelAngle":90,"title":null}}},
   "layer":[{"transform":[{"filter":"datum.k=='t'"}],"mark":{"type":"line"}},{"transform":[{"filter":"datum.k=='i'"}],"mark":{"type":"point"}}]},
  {"encoding":{"x":{"field":"x","type":"quantitative","scale":{"domain":[-9.5,-5],"range":[25,169],"nice":false,"zero":false},"axis":{"orient":"bottom","values":[-9.5,-9,-8,-7,-6,-5],"labelExpr":"datum.value==-9.5?'':''+datum.value","title":"log c (CaM-wt/CaM-mut) [M]","titleX":84}}},
   "layer":[{"transform":[{"filter":"datum.k=='c'"}],"mark":{"type":"line","interpolate":"monotone"}},{"transform":[{"filter":"datum.k=='p'"}],"mark":{"type":"errorbar","ticks":{"size":4},"thickness":0.8},"encoding":{"yError":{"field":"e"}}},{"transform":[{"filter":"datum.k=='p'"}],"mark":{"type":"point"}}]}
 ],
 "resolve":{"scale":{"x":"independent"},"axis":{"x":"independent"}}},
{"width":169,"height":111,"transform":[{"filter":"datum.s=='CaM-wt'||datum.s=='M109,M124/L7-CaM'"}],
 "encoding":{"y":{"field":"y","type":"quantitative","scale":{"domain":[-19,150],"nice":false,"zero":false},"axis":{"values":[0,50,100,150],"title":["AC activity in %","relative to CaM-wt"]}},
  "color":{"field":"s","type":"nominal","scale":{"domain":["CaM-wt","M109,M124/L7-CaM"],"range":["#111111","#3a9a3a"]},"legend":{"title":null,"orient":"none","legendX":11,"legendY":-9,"symbolType":"square","symbolSize":10,"labelOffset":7,"rowPadding":1.5,"encode":{"labels":{"update":{"fill":{"signal":"datum.value=='CaM-wt'?'#222222':'#3a9a3a'"}}},"symbols":{"update":{"fill":{"signal":"datum.value=='CaM-wt'?'#111111':'#3a9a3a'"},"stroke":{"value":"transparent"}}}}}}},
 "layer":[
  {"encoding":{"x":{"field":"x","type":"quantitative","scale":{"domain":[-10.28,-9.78],"range":[0,16],"nice":false,"zero":false},"axis":{"orient":"bottom","values":[-10,-9.78],"labelExpr":"datum.value==-10?'∞':''","labelAngle":90,"title":null}}},
   "layer":[{"transform":[{"filter":"datum.k=='t'"}],"mark":{"type":"line"}},{"transform":[{"filter":"datum.k=='i'"}],"mark":{"type":"point"}}]},
  {"encoding":{"x":{"field":"x","type":"quantitative","scale":{"domain":[-9.5,-5],"range":[25,169],"nice":false,"zero":false},"axis":{"orient":"bottom","values":[-9.5,-9,-8,-7,-6,-5],"labelExpr":"datum.value==-9.5?'':''+datum.value","title":"log c (CaM-wt/CaM-mut) [M]","titleX":84}}},
   "layer":[{"transform":[{"filter":"datum.k=='c'"}],"mark":{"type":"line","interpolate":"monotone"}},{"transform":[{"filter":"datum.k=='p'"}],"mark":{"type":"errorbar","ticks":{"size":4},"thickness":0.8},"encoding":{"yError":{"field":"e"}}},{"transform":[{"filter":"datum.k=='p'"}],"mark":{"type":"point"}}]}
 ],
 "resolve":{"scale":{"x":"independent"},"axis":{"x":"independent"}}},
{"width":169,"height":111,"transform":[{"filter":"datum.s=='CaM-wt'||datum.s=='M71,M72,M76/L6-CaM'"}],
 "encoding":{"y":{"field":"y","type":"quantitative","scale":{"domain":[-19,150],"nice":false,"zero":false},"axis":{"values":[0,50,100,150],"title":["AC activity in %","relative to CaM-wt"]}},
  "color":{"field":"s","type":"nominal","scale":{"domain":["CaM-wt","M71,M72,M76/L6-CaM"],"range":["#111111","#3a9a3a"]},"legend":{"title":null,"orient":"none","legendX":11,"legendY":-9,"symbolType":"square","symbolSize":10,"labelOffset":7,"rowPadding":1.5,"encode":{"labels":{"update":{"fill":{"signal":"datum.value=='CaM-wt'?'#222222':'#3a9a3a'"}}},"symbols":{"update":{"fill":{"signal":"datum.value=='CaM-wt'?'#111111':'#3a9a3a'"},"stroke":{"value":"transparent"}}}}}}},
 "layer":[
  {"encoding":{"x":{"field":"x","type":"quantitative","scale":{"domain":[-10.28,-9.78],"range":[0,16],"nice":false,"zero":false},"axis":{"orient":"bottom","values":[-10,-9.78],"labelExpr":"datum.value==-10?'∞':''","labelAngle":90,"title":null}}},
   "layer":[{"transform":[{"filter":"datum.k=='t'"}],"mark":{"type":"line"}},{"transform":[{"filter":"datum.k=='i'"}],"mark":{"type":"point"}}]},
  {"encoding":{"x":{"field":"x","type":"quantitative","scale":{"domain":[-9.5,-5],"range":[25,169],"nice":false,"zero":false},"axis":{"orient":"bottom","values":[-9.5,-9,-8,-7,-6,-5],"labelExpr":"datum.value==-9.5?'':''+datum.value","title":"log c (CaM-wt/CaM-mut) [M]","titleX":84}}},
   "layer":[{"transform":[{"filter":"datum.k=='c'"}],"mark":{"type":"line","interpolate":"monotone"}},{"transform":[{"filter":"datum.k=='p'"}],"mark":{"type":"errorbar","ticks":{"size":4},"thickness":0.8},"encoding":{"yError":{"field":"e"}}},{"transform":[{"filter":"datum.k=='p'"}],"mark":{"type":"point"}}]}
 ],
 "resolve":{"scale":{"x":"independent"},"axis":{"x":"independent"}}},
{"width":169,"height":111,"transform":[{"filter":"datum.s=='CaM-wt'||datum.s=='M144,M145/L7-CaM'"}],
 "encoding":{"y":{"field":"y","type":"quantitative","scale":{"domain":[-19,150],"nice":false,"zero":false},"axis":{"values":[0,50,100,150],"title":["AC activity in %","relative to CaM-wt"]}},
  "color":{"field":"s","type":"nominal","scale":{"domain":["CaM-wt","M144,M145/L7-CaM"],"range":["#111111","#3a9a3a"]},"legend":{"title":null,"orient":"none","legendX":11,"legendY":-9,"symbolType":"square","symbolSize":10,"labelOffset":7,"rowPadding":1.5,"encode":{"labels":{"update":{"fill":{"signal":"datum.value=='CaM-wt'?'#222222':'#3a9a3a'"}}},"symbols":{"update":{"fill":{"signal":"datum.value=='CaM-wt'?'#111111':'#3a9a3a'"},"stroke":{"value":"transparent"}}}}}}},
 "layer":[
  {"encoding":{"x":{"field":"x","type":"quantitative","scale":{"domain":[-10.28,-9.78],"range":[0,16],"nice":false,"zero":false},"axis":{"orient":"bottom","values":[-10,-9.78],"labelExpr":"datum.value==-10?'∞':''","labelAngle":90,"title":null}}},
   "layer":[{"transform":[{"filter":"datum.k=='t'"}],"mark":{"type":"line"}},{"transform":[{"filter":"datum.k=='i'"}],"mark":{"type":"point"}}]},
  {"encoding":{"x":{"field":"x","type":"quantitative","scale":{"domain":[-9.5,-5],"range":[25,169],"nice":false,"zero":false},"axis":{"orient":"bottom","values":[-9.5,-9,-8,-7,-6,-5],"labelExpr":"datum.value==-9.5?'':''+datum.value","title":"log c (CaM-wt/CaM-mut) [M]","titleX":84}}},
   "layer":[{"transform":[{"filter":"datum.k=='c'"}],"mark":{"type":"line","interpolate":"monotone"}},{"transform":[{"filter":"datum.k=='p'"}],"mark":{"type":"errorbar","ticks":{"size":4},"thickness":0.8},"encoding":{"yError":{"field":"e"}}},{"transform":[{"filter":"datum.k=='p'"}],"mark":{"type":"point"}}]}
 ],
 "resolve":{"scale":{"x":"independent"},"axis":{"x":"independent"}}},
{"width":169,"height":111,"transform":[{"filter":"datum.s=='CaM-wt'||datum.s=='L2-CaM'"}],
 "encoding":{"y":{"field":"y","type":"quantitative","scale":{"domain":[-19,150],"nice":false,"zero":false},"axis":{"values":[0,50,100,150],"title":["AC activity in %","relative to CaM-wt"]}},
  "color":{"field":"s","type":"nominal","scale":{"domain":["CaM-wt","L2-CaM"],"range":["#111111","#3a9a3a"]},"legend":{"title":null,"orient":"none","legendX":11,"legendY":-9,"symbolType":"square","symbolSize":10,"labelOffset":7,"rowPadding":1.5,"encode":{"labels":{"update":{"fill":{"signal":"datum.value=='CaM-wt'?'#222222':'#3a9a3a'"}}},"symbols":{"update":{"fill":{"signal":"datum.value=='CaM-wt'?'#111111':'#3a9a3a'"},"stroke":{"value":"transparent"}}}}}}},
 "layer":[
  {"encoding":{"x":{"field":"x","type":"quantitative","scale":{"domain":[-10.28,-9.78],"range":[0,16],"nice":false,"zero":false},"axis":{"orient":"bottom","values":[-10,-9.78],"labelExpr":"datum.value==-10?'∞':''","labelAngle":90,"title":null}}},
   "layer":[{"transform":[{"filter":"datum.k=='t'"}],"mark":{"type":"line"}},{"transform":[{"filter":"datum.k=='i'"}],"mark":{"type":"point"}}]},
  {"encoding":{"x":{"field":"x","type":"quantitative","scale":{"domain":[-9.5,-5],"range":[25,169],"nice":false,"zero":false},"axis":{"orient":"bottom","values":[-9.5,-9,-8,-7,-6,-5],"labelExpr":"datum.value==-9.5?'':''+datum.value","title":"log c (CaM-wt/CaM-mut) [M]","titleX":84}}},
   "layer":[{"transform":[{"filter":"datum.k=='c'"}],"mark":{"type":"line","interpolate":"monotone"}},{"transform":[{"filter":"datum.k=='p'"}],"mark":{"type":"errorbar","ticks":{"size":4},"thickness":0.8},"encoding":{"yError":{"field":"e"}}},{"transform":[{"filter":"datum.k=='p'"}],"mark":{"type":"point"}}]}
 ],
 "resolve":{"scale":{"x":"independent"},"axis":{"x":"independent"}}}
]
}
